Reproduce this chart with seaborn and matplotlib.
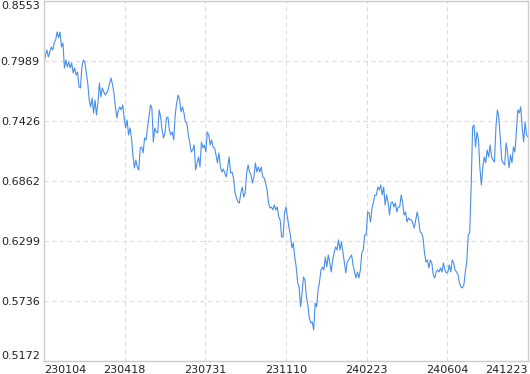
import numpy as np
import pandas as pd
import matplotlib
matplotlib.use("Agg")
import matplotlib.pyplot as plt
import seaborn as sns

# x axis labels (trading dates, yymmdd) and y axis ticks
tick_labels = ["230104", "230418", "230731", "231110", "240223", "240604", "241223"]
y_ticks = [0.5172, 0.5736, 0.6299, 0.6862, 0.7426, 0.7989, 0.8553]

# net value series
nav_early_2023 = [
    0.7971, 0.8046, 0.8093, 0.8027, 0.8074, 0.8121, 0.8093, 0.8159, 0.8187, 0.8262,
    0.8206, 0.8262, 0.8121, 0.8159, 0.7924, 0.7999, 0.7933, 0.7980, 0.7924, 0.7971,
    0.7877, 0.7924, 0.7858, 0.7886, 0.7746, 0.7736, 0.7933, 0.7999, 0.7980, 0.7877,
    0.7783, 0.7623, 0.7558, 0.7642, 0.7501, 0.7623, 0.7483, 0.7595, 0.7783, 0.7652,
    0.7736, 0.7699, 0.7670, 0.7689, 0.7717, 0.7783, 0.7830, 0.7764, 0.7689, 0.7558,
    0.7454, 0.7530, 0.7558, 0.7530, 0.7577,
]
nav_mid_2023 = [
    0.7454, 0.7361, 0.7436, 0.7295, 0.7361, 0.7267, 0.7107, 0.6985, 0.7060, 0.6994,
    0.6966, 0.7173, 0.7182, 0.7126, 0.7267, 0.7248, 0.7361, 0.7464, 0.7577, 0.7548,
    0.7229, 0.7361, 0.7323, 0.7314, 0.7530, 0.7464, 0.7342, 0.7267, 0.7314, 0.7454,
    0.7464, 0.7342, 0.7295, 0.7323, 0.7248, 0.7483, 0.7595, 0.7670, 0.7623, 0.7511,
    0.7558, 0.7501, 0.7417, 0.7407, 0.7295, 0.7220, 0.7135,
]
nav_late_2023 = [
    0.7154, 0.7201, 0.6966, 0.7032, 0.7088, 0.6994, 0.7229, 0.7173, 0.7201, 0.7135,
    0.7323, 0.7295, 0.7201, 0.7248, 0.7182, 0.7173, 0.7107, 0.7032, 0.7126, 0.6994,
    0.6947, 0.6975, 0.6938, 0.6900, 0.6994, 0.7088, 0.6938, 0.6947, 0.6891, 0.6759,
    0.6703, 0.6666, 0.6656, 0.6750, 0.6806, 0.6712, 0.6750, 0.6938, 0.7013, 0.6947,
    0.6919, 0.6844, 0.6900, 0.7032, 0.6947, 0.6994, 0.6947, 0.6994, 0.6900, 0.6891,
    0.6844, 0.6778, 0.6656, 0.6609, 0.6618, 0.6591, 0.6637, 0.6591, 0.6618, 0.6525,
    0.6497, 0.6337, 0.6337, 0.6562, 0.6618, 0.6525, 0.6431, 0.6356,
]
nav_winter = [
    0.6234, 0.6281, 0.6149, 0.6055, 0.5905, 0.5867, 0.5680, 0.5811, 0.5961, 0.5933,
    0.5774, 0.5699, 0.5576, 0.5529, 0.5539, 0.5464, 0.5717, 0.5680, 0.5839, 0.5914,
    0.6027, 0.6055, 0.6027, 0.6149, 0.6055, 0.6168, 0.6093, 0.6008, 0.6121, 0.6187,
    0.6243, 0.6215, 0.6309, 0.6215, 0.6290, 0.6196, 0.6102, 0.5999, 0.6102, 0.6121,
    0.6149, 0.6168, 0.6074, 0.6008, 0.5952, 0.6008, 0.5952, 0.6027, 0.6187, 0.6215,
    0.6356,
]
nav_spring_2024 = [
    0.6356, 0.6572, 0.6562, 0.6478, 0.6609, 0.6666, 0.6731, 0.6731, 0.6806, 0.6778,
    0.6825, 0.6731, 0.6806, 0.6637, 0.6731, 0.6666, 0.6543, 0.6656, 0.6666, 0.6618,
    0.6656, 0.6572, 0.6618, 0.6618, 0.6731, 0.6656, 0.6543, 0.6572, 0.6478, 0.6515,
    0.6497, 0.6497, 0.6468, 0.6421, 0.6497, 0.6572, 0.6497, 0.6384, 0.6375, 0.6328,
    0.6187, 0.6102, 0.6121, 0.6046, 0.6121, 0.6093, 0.5980, 0.5952, 0.6008, 0.6027,
    0.6008, 0.6046, 0.6008, 0.6093, 0.6027, 0.5999, 0.6008, 0.6074, 0.6008, 0.6121,
    0.6093, 0.6027, 0.6008, 0.5980, 0.5905, 0.5867, 0.5858, 0.5886, 0.6008, 0.6102,
    0.6356,
]
nav_late_2024 = [
    0.6375, 0.6806, 0.7370, 0.7389, 0.7182, 0.7323, 0.7248, 0.6985, 0.6825, 0.6994,
    0.7088, 0.7032, 0.7154, 0.7088, 0.7201, 0.7088, 0.7060, 0.7041, 0.7370, 0.7530,
    0.7464, 0.7267, 0.7060, 0.7032, 0.7013, 0.7220, 0.7126, 0.6985, 0.7107, 0.7032,
    0.7182, 0.7135, 0.7314, 0.7530, 0.7501, 0.7558, 0.7370, 0.7229, 0.7417, 0.7295,
    0.7276,
]

values = (nav_early_2023 + nav_mid_2023 + nav_late_2023
          + nav_winter + nav_spring_2024 + nav_late_2024)
df = pd.DataFrame({"day": np.arange(len(values)), "nav": values})

sns.set_style("white")
plt.rcParams["font.family"] = ["DejaVu Sans"]

fig = plt.figure(figsize=(5.3, 3.74), dpi=100)
ax = fig.add_axes([44 / 530, 13 / 374, 484 / 530, 360 / 374])

sns.lineplot(data=df, x="day", y="nav", ax=ax, color="#4a8fe3", linewidth=0.8)

last = len(values) - 1
ax.set_xlim(0, last)
ax.set_ylim(y_ticks[0], y_ticks[-1])
ax.set_xticks(np.linspace(0, last, len(tick_labels)))
ax.set_xticklabels(tick_labels)
ax.set_yticks(y_ticks)
ax.set_yticklabels([f"{t:.4f}" for t in y_ticks])
ax.set_xlabel("")
ax.set_ylabel("")

ax.grid(True, color="#dcdcdc", linestyle=(0, (4, 3)), linewidth=0.8)
for side in ax.spines.values():
    side.set_color("#cccccc")
    side.set_linewidth(1.0)
ax.tick_params(length=0, labelsize=8, pad=3, colors="#222222")

xl = ax.get_xticklabels()
xl[0].set_ha("left")
xl[-1].set_ha("right")
yl = ax.get_yticklabels()
yl[0].set_va("bottom")
yl[-1].set_va("top")

fig.savefig("out.png", dpi=100)
